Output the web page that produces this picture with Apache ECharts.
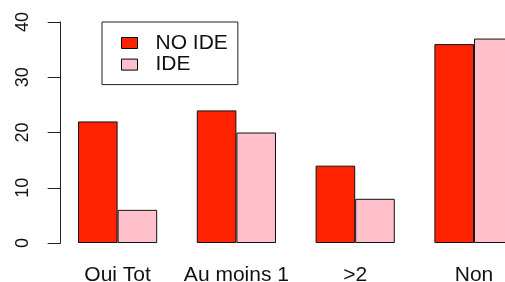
<!DOCTYPE html>
<html>
<head>
<meta charset="utf-8">
<script src="https://cdn.jsdelivr.net/npm/echarts@6/dist/echarts.min.js"></script>
<style>
html,body{margin:0;padding:0;background:#fff;}
#chart{width:505px;height:282px;}
</style>
</head>
<body>
<div id="chart"></div>
<script>
const categories = ['Oui Tot', 'Au moins 1', '>2', 'Non'];
const noIde = [22, 24, 14, 36];
const ide = [6, 20, 8, 37];
const yTicks = [0, 10, 20, 30, 40];

const font = 'Liberation Sans, Arial, Helvetica, sans-serif';
const chart = echarts.init(document.getElementById('chart'), null, {renderer: 'canvas'});
chart.setOption({
  animation: false,
  backgroundColor: '#fff',
  grid: {left: 58.2, right: -28.4, top: 22, bottom: 39, containLabel: false, outerBoundsMode: 'none'},
  legend: {
    orient: 'vertical',
    left: 102, top: 22,
    padding: [10.5, 10, 9.5, 19],
    itemGap: 0.6,
    itemWidth: 16, itemHeight: 11,
    icon: 'rect',
    borderColor: '#222', borderWidth: 1,
    itemStyle: {borderColor: '#000', borderWidth: 1},
    textStyle: {fontFamily: font, fontSize: 21, color: '#111', lineHeight: 20, padding: [0, 0, 0, 13]},
    data: ['NO IDE', 'IDE']
  },
  xAxis: {
    type: 'category',
    data: categories,
    axisLine: {show: false},
    axisTick: {show: false},
    axisLabel: {fontFamily: font, fontSize: 21, color: '#111', margin: 22, interval: 0}
  },
  yAxis: {
    type: 'value',
    min: yTicks[0], max: yTicks[yTicks.length - 1], interval: 10,
    offset: -2.5,
    axisLine: {show: true, lineStyle: {color: '#222', width: 1}},
    axisTick: {show: true, length: 13, lineStyle: {color: '#222', width: 1}},
    splitLine: {show: false},
    axisLabel: {rotate: 90, fontFamily: font, fontSize: 18, color: '#111', margin: 29}
  },
  series: [
    {name: 'NO IDE', type: 'bar', data: noIde, barWidth: 39.6, barGap: '0%',
     itemStyle: {color: '#FF2200', borderColor: '#111', borderWidth: 1}},
    {name: 'IDE', type: 'bar', data: ide, barWidth: 39.6, barGap: '0%',
     itemStyle: {color: '#FFC0CB', borderColor: '#111', borderWidth: 1}}
  ]
});
</script>
</body>
</html>
